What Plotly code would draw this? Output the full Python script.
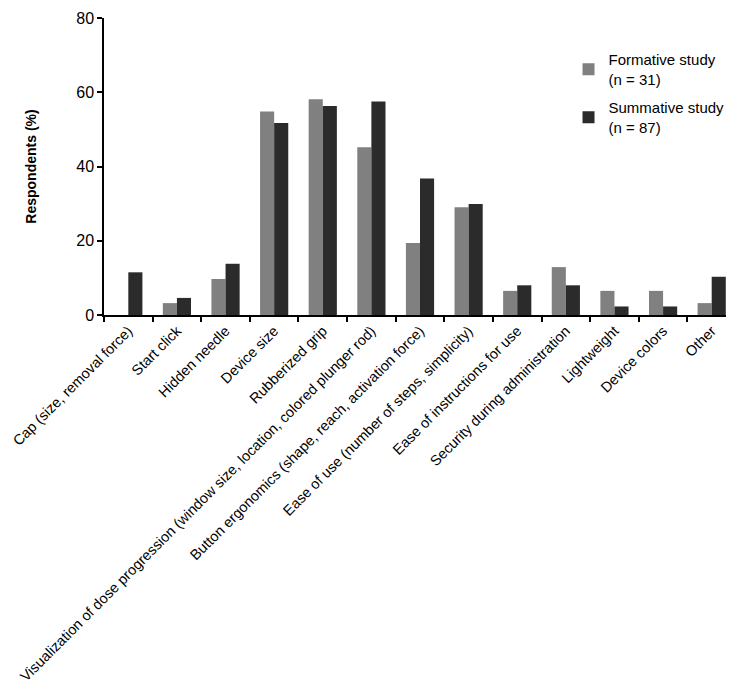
import plotly.graph_objects as go

categories = [
    "Cap (size, removal force)",
    "Start click",
    "Hidden needle",
    "Device size",
    "Rubberized grip",
    "Visualization of dose progression (window size, location, colored plunger rod)",
    "Button ergonomics (shape, reach, activation force)",
    "Ease of use (number of steps, simplicity)",
    "Ease of instructions for use",
    "Security during administration",
    "Lightweight",
    "Device colors",
    "Other",
]
formative = [0, 3.2, 9.7, 54.8, 58.1, 45.2, 19.4, 29.0, 6.5, 12.9, 6.5, 6.5, 3.2]
summative = [11.5, 4.6, 13.8, 51.7, 56.3, 57.5, 36.8, 29.9, 8.0, 8.0, 2.3, 2.3, 10.3]
y_ticks = [0, 20, 40, 60, 80]

fig = go.Figure()
fig.add_trace(go.Bar(x=categories, y=formative, name="Formative study<br>(n = 31)",
                     legendgroup="f",
                     marker=dict(color="#808080", line=dict(width=0))))
fig.add_trace(go.Bar(x=categories, y=summative, name="Summative study<br>(n = 87)",
                     legendgroup="s",
                     marker=dict(color="#2b2b2b", line=dict(width=0))))

font_family = "Liberation Sans, Arial, Helvetica, sans-serif"
fig.update_layout(
    width=734, height=688,
    margin=dict(l=96, r=6, t=10, b=381, autoexpand=False),
    paper_bgcolor="white", plot_bgcolor="white",
    barmode="group", bargap=0.42, bargroupgap=0,
    font=dict(family=font_family, color="black", size=14.5),
    showlegend=True,
    legend=dict(x=0.735, y=0.915, xanchor="left", yanchor="top",
                font=dict(size=15, family=font_family), bgcolor="rgba(0,0,0,0)",
                tracegroupgap=6, itemwidth=30),
    xaxis=dict(showline=True, linecolor="black", linewidth=1.5, automargin=False,
               ticks="outside", ticklen=5, tickcolor="black", tickwidth=1.5,
               tickson="boundaries", tickangle=-45,
               tickfont=dict(size=14.5, family=font_family)),
    yaxis=dict(range=[0, 80], tickvals=y_ticks, showline=True, linecolor="black",
               linewidth=1.5, ticks="outside", ticklen=5, tickcolor="black",
               tickwidth=1.5, showgrid=False, zeroline=False, automargin=False,
               tickfont=dict(size=16, family=font_family),
               title=dict(text="<b>Respondents (%)</b>", font=dict(size=14, family=font_family),
                          standoff=36)),
)

fig.write_html("out.html")
